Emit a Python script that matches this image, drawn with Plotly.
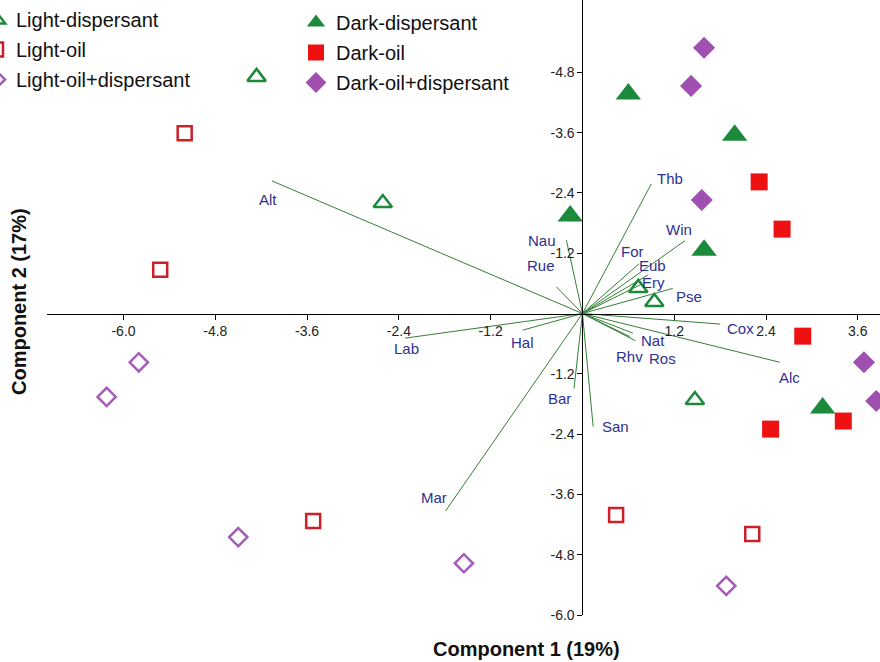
import plotly.graph_objects as go

# ---------------- data ----------------
groups = ["Light-dispersant", "Light-oil", "Light-oil+dispersant",
          "Dark-dispersant", "Dark-oil", "Dark-oil+dispersant"]

light_disp_x = [-4.26, -2.61, 0.73, 0.94, 1.47]
light_disp_y = [4.71, 2.20, 0.51, 0.23, -1.72]

light_oil_x = [-5.20, -5.52, -3.52, 0.44, 2.22]
light_oil_y = [3.59, 0.87, -4.13, -4.01, -4.39]

light_oildisp_x = [-5.80, -6.22, -4.50, -1.55, 1.88]
light_oildisp_y = [-0.97, -1.66, -4.45, -4.97, -5.42]

dark_disp_x = [0.60, 1.99, -0.16, 1.59, 3.14]
dark_disp_y = [4.37, 3.55, 1.94, 1.26, -1.88]

dark_oil_x = [2.31, 2.61, 2.88, 3.41, 2.46]
dark_oil_y = [2.62, 1.68, -0.45, -2.14, -2.30]

dark_oildisp_x = [1.59, 1.42, 1.56, 3.68, 3.84]
dark_oildisp_y = [5.29, 4.53, 2.26, -0.97, -1.74]

vec_names = ["Thb", "Win", "For", "Eub", "Ery", "Pse", "Cox", "Alc", "Nat",
             "Rhv", "Ros", "San", "Bar", "Hal", "Lab", "Mar", "Alt", "Nau", "Rue"]
vec_x = [0.90, 1.34, 0.74, 0.86, 0.78, 1.18, 1.80, 2.58, 0.69,
         0.62, 0.66, 0.14, -0.11, -0.78, -2.32, -1.79, -4.06, -0.21, -0.34]
vec_y = [2.58, 1.45, 0.99, 0.77, 0.59, 0.50, -0.21, -0.97, -0.54,
         -0.46, -0.39, -2.25, -1.49, -0.33, -0.49, -3.93, 2.64, 1.46, 0.53]

x_tick_vals = [-6.0, -4.8, -3.6, -2.4, -1.2, 1.2, 2.4, 3.6]
x_tick_text = ["-6.0", "-4.8", "-3.6", "-2.4", "-1.2", "1.2", "2.4", "3.6"]
y_tick_vals = [4.8, 3.6, 2.4, 1.2, -1.2, -2.4, -3.6, -4.8, -6.0]
y_tick_text = ["-4.8", "-3.6", "-2.4", "-1.2", "-1.2", "-2.4", "-3.6", "-4.8", "-6.0"]

# ---------------- style ----------------
FONT = "Arial, Liberation Sans, sans-serif"
GREEN = "#1d8a3b"
RED_F = "#ee1111"
RED_O = "#c9202a"
PURP_F = "#a050b0"
PURP_O = "#a55db5"
VEC_COL = "#357f35"
LAB_COL = "#2e3192"

# label offsets in pixels (dx right, dy down) from vector tips
lab_off = {"Thb": (19, -5), "Win": (-6, -11), "For": (-7, -12), "Eub": (4, -9),
           "Ery": (11, -1), "Pse": (16, 8), "Cox": (20, 4), "Alc": (10, 15),
           "Nat": (18, 0), "Rhv": (0, 20), "Ros": (30, 25), "San": (22, 0),
           "Bar": (-15, 10), "Hal": (0, 12), "Lab": (2, 10), "Mar": (-12, -13),
           "Alt": (-4, 19), "Nau": (-24, 0), "Rue": (-15, -21)}

fig = go.Figure()

# loading vectors
lx, ly = [], []
for vx, vy in zip(vec_x, vec_y):
    lx += [0, vx, None]
    ly += [0, vy, None]
fig.add_trace(go.Scatter(x=lx, y=ly, mode="lines", line=dict(color=VEC_COL, width=1),
                         showlegend=False, hoverinfo="skip"))

series = [
    (groups[0], light_disp_x, light_disp_y, "triangle-up-open", 16, GREEN, "legend"),
    (groups[1], light_oil_x, light_oil_y, "square-open", 14, RED_O, "legend"),
    (groups[2], light_oildisp_x, light_oildisp_y, "diamond-open", 14, PURP_O, "legend"),
    (groups[3], dark_disp_x, dark_disp_y, "triangle-up", 22, GREEN, "legend2"),
    (groups[4], dark_oil_x, dark_oil_y, "square", 17, RED_F, "legend2"),
    (groups[5], dark_oildisp_x, dark_oildisp_y, "diamond", 17, PURP_F, "legend2"),
]
for name, xs, ys, sym, size, col, leg in series:
    openm = sym.endswith("open")
    fig.add_trace(go.Scatter(
        x=xs, y=ys, mode="markers", name=name, legend=leg, legendgroup=name,
        marker=dict(symbol=sym, size=size, color=col,
                    line=dict(width=2.5 if openm else 0, color=col)),
        cliponaxis=True))

for n, vx, vy in zip(vec_names, vec_x, vec_y):
    dx, dy = lab_off[n]
    fig.add_annotation(x=vx, y=vy, text=n, showarrow=False, xshift=dx, yshift=-dy,
                       font=dict(family=FONT, size=15, color=LAB_COL))

W, H = 880, 662
ML, MB = 0, 47
x_dom = [47 / W, 1.0]
xr = [-7.0, 3.89]
yr = [-6.0, 6.24]
x0_paper = x_dom[0] + (0 - xr[0]) / (xr[1] - xr[0]) * (x_dom[1] - x_dom[0])
y0_paper = (0 - yr[0]) / (yr[1] - yr[0])
plot_h = H - MB

axis_common = dict(showgrid=False, zeroline=False, showline=True, linecolor="black",
                   linewidth=1, ticks="outside", ticklen=5, tickcolor="black",
                   tickfont=dict(family=FONT, size=14, color="#222222"), anchor="free")

leg_common = dict(yanchor="top", xanchor="left", bgcolor="rgba(0,0,0,0)",
                  font=dict(family=FONT, size=20, color="#111111"), tracegroupgap=1,
                  itemsizing="trace")

fig.update_layout(
    width=W, height=H,
    margin=dict(l=ML, r=0, t=0, b=MB, autoexpand=False),
    paper_bgcolor="white", plot_bgcolor="white",
    font=dict(family=FONT),
    xaxis=dict(axis_common, domain=x_dom, range=xr, position=y0_paper, side="bottom",
               tickvals=x_tick_vals, ticktext=x_tick_text),
    yaxis=dict(axis_common, domain=[0, 1], range=yr, position=x0_paper, side="left",
               tickvals=y_tick_vals, ticktext=y_tick_text),
    legend=dict(leg_common, x=-24 / W, y=1.0),
    legend2=dict(leg_common, x=296 / W, y=1.0 - 3 / plot_h),
    showlegend=True,
)

fig.add_annotation(xref="paper", yref="paper", x=526 / W, y=-(649 - plot_h) / plot_h,
                   xanchor="center", yanchor="middle",
                   text="<b>Component 1 (19%)</b>", showarrow=False,
                   font=dict(family=FONT, size=20, color="#111111"))
fig.add_annotation(xref="paper", yref="paper", x=19 / W, y=(plot_h - 302) / plot_h,
                   xanchor="center", yanchor="middle",
                   text="<b>Component 2 (17%)</b>", showarrow=False, textangle=-90,
                   font=dict(family=FONT, size=20, color="#111111"))

fig.write_html("out.html", config={"displayModeBar": False},
               post_script="document.body.style.margin='0';")
